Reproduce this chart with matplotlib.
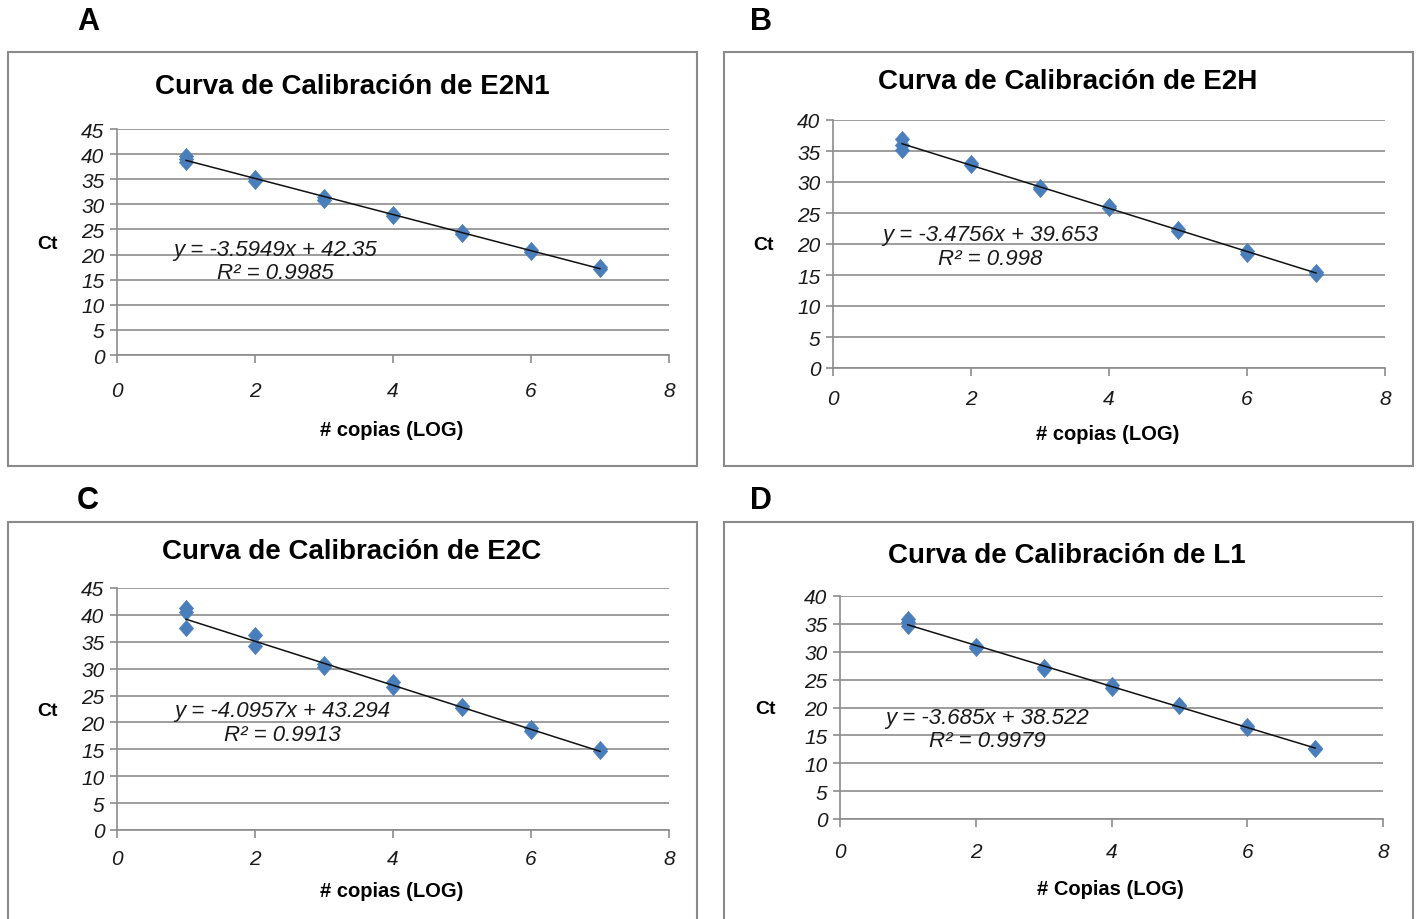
import matplotlib
matplotlib.use("Agg")
import matplotlib.pyplot as plt
import numpy as np
from matplotlib.patches import Rectangle

plt.rcParams['font.family'] = ['Liberation Sans', 'DejaVu Sans']

W, H = 1417, 920

# ---------------- data ----------------
panel_letters = ["A", "B", "C", "D"]
titles = ["Curva de Calibración de E2N1", "Curva de Calibración de E2H",
          "Curva de Calibración de E2C", "Curva de Calibración de L1"]
xlabels = ["# copias (LOG)", "# copias (LOG)", "# copias (LOG)", "# Copias (LOG)"]
ylabel = "Ct"

xA = [1, 1, 1, 2, 2, 3, 3, 4, 4, 5, 5, 6, 6, 7, 7]
yA = [39.6, 39.0, 38.4, 35.2, 34.6, 31.4, 30.8, 28.1, 27.7, 24.5, 24.0, 20.9, 20.5, 17.5, 17.2]
xB = [1, 1, 1, 2, 2, 3, 3, 4, 4, 5, 5, 6, 6, 7, 7]
yB = [37.0, 36.0, 35.2, 33.1, 32.7, 29.2, 28.8, 26.1, 25.8, 22.4, 22.1, 18.8, 18.4, 15.5, 15.2]
xC = [1, 1, 1, 2, 2, 3, 3, 4, 4, 5, 5, 6, 6, 7, 7]
yC = [41.3, 40.6, 37.6, 36.2, 34.2, 30.8, 30.3, 27.5, 26.5, 23.0, 22.7, 19.0, 18.5, 15.0, 14.7]
xD = [1, 1, 1, 2, 2, 3, 3, 4, 4, 5, 5, 6, 6, 7, 7]
yD = [35.9, 35.3, 34.7, 31.0, 30.7, 27.3, 26.9, 24.0, 23.5, 20.5, 20.2, 16.7, 16.3, 12.8, 12.6]

slopes = [-3.5949, -3.4756, -4.0957, -3.685]
intercepts = [42.35, 39.653, 43.294, 38.522]
eq_texts = ["y = -3.5949x + 42.35\nR² = 0.9985",
            "y = -3.4756x + 39.653\nR² = 0.998",
            "y = -4.0957x + 43.294\nR² = 0.9913",
            "y = -3.685x + 38.522\nR² = 0.9979"]
ymax = [45, 40, 45, 40]

# ---------------- layout (pixel boxes) ----------------
axes_px = [(117, 130, 669, 356), (833, 121, 1385, 369),
           (117, 589, 669, 831), (840, 597, 1383, 820)]
box_px = [(8, 53, 697, 467), (724, 53, 1413, 467),
          (8, 523, 697, 940), (724, 523, 1413, 940)]
letter_px = [(88, 22), (761, 22), (88, 501), (761, 501)]
title_px = [(352, 87), (1068, 82), (352, 552), (1067, 556)]
xlabel_px = [(392, 430), (1108, 434), (392, 892), (1110, 890)]
ylabel_px = [(47, 245), (763, 246), (47, 711), (765, 709)]
eq_pos = [(2.29, 18.7), (2.28, 19.6), (2.39, 20.0), (2.17, 16.1)]
xpads = [12.5, 9.0, 7.5, 10.5]

fig = plt.figure(figsize=(W / 100, H / 100), dpi=100)
fig.patch.set_facecolor("white")

def fx(px):
    return px / W

def fy(py):
    return 1 - py / H

diamond = [(0, 1), (0.88, 0), (0, -1), (-0.88, 0), (0, 1)]

datasets = [(xA, yA), (xB, yB), (xC, yC), (xD, yD)]
grid_col = "#8c8c8c"
for i in range(4):
    bx0, by0, bx1, by1 = box_px[i]
    fig.patches.append(Rectangle((fx(bx0), fy(by1)), fx(bx1 - bx0), (by1 - by0) / H,
                                 transform=fig.transFigure, fill=False,
                                 edgecolor="#8a8a8a", linewidth=1.5, zorder=0))
    l, t, r, b = axes_px[i]
    ax = fig.add_axes([fx(l), fy(b), fx(r - l), (b - t) / H])
    x, y = datasets[i]
    ax.set_xlim(0, 8)
    ax.set_ylim(0, ymax[i])
    ax.set_xticks(np.arange(0, 9, 2))
    ax.set_yticks(np.arange(0, ymax[i] + 1, 5))
    for s in ["top", "right"]:
        ax.spines[s].set_visible(False)
    for s in ["left", "bottom"]:
        ax.spines[s].set_color(grid_col)
        ax.spines[s].set_linewidth(1.2)
    ax.yaxis.grid(True, color=grid_col, linewidth=1.2)
    ax.set_axisbelow(True)
    ax.tick_params(axis="x", length=6, width=1.2, color=grid_col, pad=xpads[i],
                   labelsize=15)
    ax.tick_params(axis="y", length=5, width=1.2, color=grid_col, pad=4,
                   labelsize=15)
    for lab in ax.get_xticklabels() + ax.get_yticklabels():
        lab.set_fontstyle("italic")
        lab.set_color("#1a1a1a")
    ax.scatter(x, y, marker=diamond, s=135, color="#4a7ebb", edgecolors="#4a7ebb",
               linewidths=0.5, zorder=3, clip_on=False)
    xs = np.array([min(x), max(x)], dtype=float)
    ax.plot(xs, slopes[i] * xs + intercepts[i], color="#111111", linewidth=1.1, zorder=4)
    ax.text(eq_pos[i][0], eq_pos[i][1], eq_texts[i], ha="center", va="center",
            fontsize=16, fontstyle="italic", color="#1a1a1a", linespacing=1.15,
            zorder=5)

    fig.text(fx(letter_px[i][0]), fy(letter_px[i][1]), panel_letters[i],
             ha="center", va="center", fontsize=22, fontweight="bold")
    fig.text(fx(title_px[i][0]), fy(title_px[i][1]), titles[i],
             ha="center", va="center", fontsize=20, fontweight="bold")
    fig.text(fx(xlabel_px[i][0]), fy(xlabel_px[i][1]), xlabels[i],
             ha="center", va="center", fontsize=14.5, fontweight="bold")
    fig.text(fx(ylabel_px[i][0]), fy(ylabel_px[i][1]), ylabel,
             ha="center", va="center", fontsize=14, fontweight="bold")

fig.savefig("out.png", dpi=100, facecolor="white")
